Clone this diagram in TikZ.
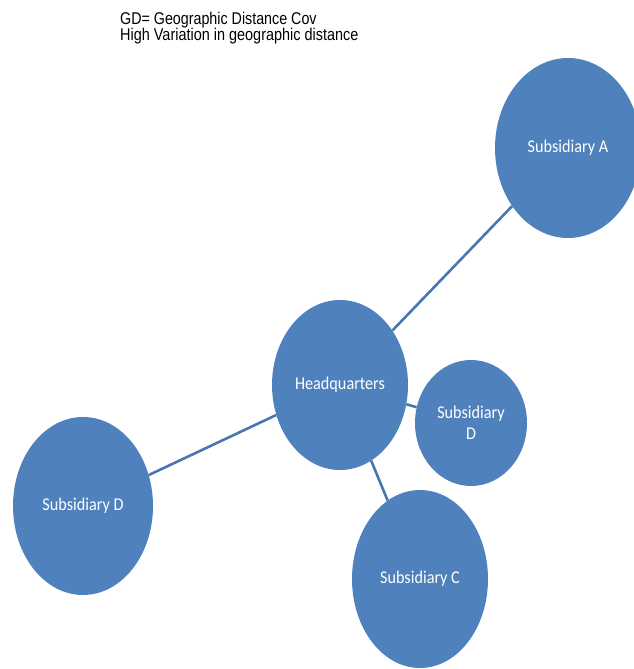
\documentclass[tikz,border=0pt]{standalone}
\usepackage{fontspec}
\setmainfont{Carlito}
\newfontfamily\titlefont{Liberation Sans}
\usetikzlibrary{shapes.geometric}
\definecolor{bubble}{RGB}{79,129,189}
\definecolor{linkc}{RGB}{72,118,178}
\newcommand{\sqz}[1]{\scalebox{0.9}[1]{#1}}
\tikzset{
  bubblenode/.style={ellipse, fill=bubble, inner sep=0pt, text=white,
    font=\fontsize{18}{21}\selectfont, align=center},
  link/.style={draw=linkc, line width=2.6pt},
  titletext/.style={anchor=base west, inner sep=0pt, font=\titlefont\fontsize{17}{17}\selectfont}
}
\begin{document}
\begin{tikzpicture}[x=1pt,y=1pt]
\useasboundingbox (0,0) rectangle (634,669);
\clip (0,0) rectangle (634,669);
\node[titletext] (t1) at (120,644.5) {\scalebox{0.84}[1]{GD= Geographic Distance Cov}};
\node[titletext] (t2) at (120,628) {\scalebox{0.85}[1]{High Variation in geographic distance}};
\node[bubblenode, minimum width=146pt, minimum height=180pt] (a) at (568,521) {\sqz{Subsidiary A}};
\node[bubblenode, minimum width=136pt, minimum height=170pt] (hq) at (340,284) {\sqz{Headquarters}};
\node[bubblenode, minimum width=112pt, minimum height=126pt] (ds) at (471,246) {\sqz{Subsidiary}\\\sqz{D}};
\node[bubblenode, minimum width=140pt, minimum height=178pt] (dl) at (83,163) {\sqz{Subsidiary D}};
\node[bubblenode, minimum width=136pt, minimum height=178pt] (c) at (420,90) {\sqz{Subsidiary C}};
\draw[link] (hq) -- (a);
\draw[link] (hq) -- (dl);
\draw[link] (hq) -- (ds);
\draw[link] (hq) -- (c);
\end{tikzpicture}
\end{document}
